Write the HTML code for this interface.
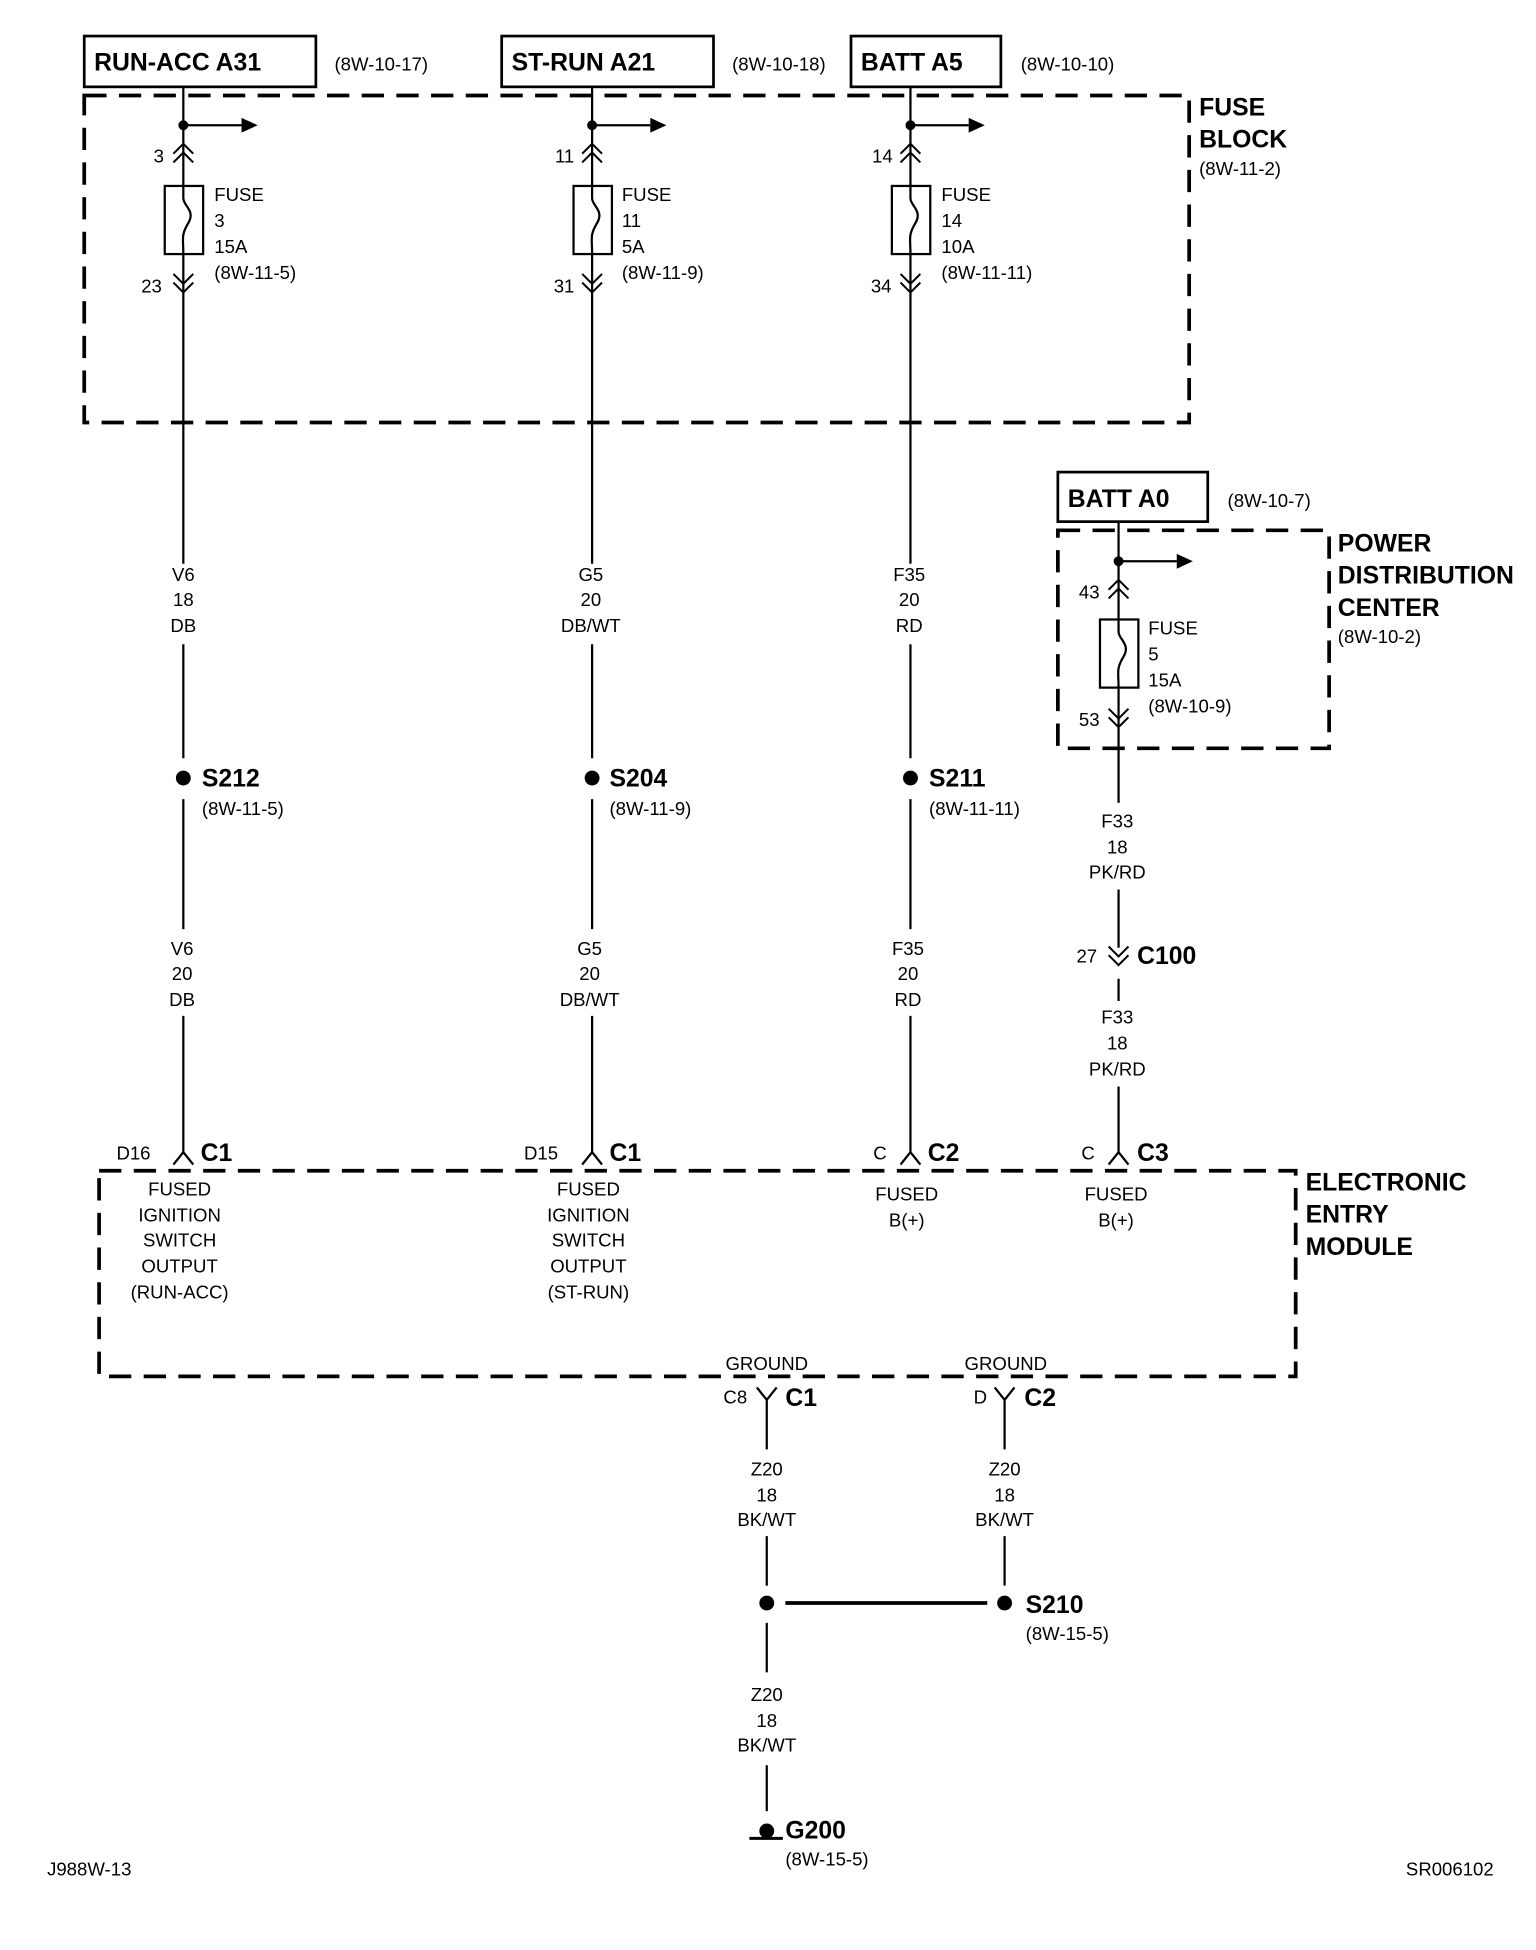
<!DOCTYPE html>
<html><head><meta charset="utf-8"><style>html,body{margin:0;padding:0;background:#fff}svg{display:block}</style></head>
<body>
<svg width="1536" height="1950" viewBox="0 0 1240 1574" xmlns="http://www.w3.org/2000/svg" font-family="Liberation Sans, Arial, sans-serif">
<defs>
<g id="upch"><path d="M-8,-2 L0,-10 L8,-2 M-8,5 L0,-3 L8,5" fill="none" stroke="#000" stroke-width="1.6"/></g>
<g id="dnch"><path d="M-8,-5 L0,3 L8,-5 M-8,2 L0,10 L8,2" fill="none" stroke="#000" stroke-width="1.6"/></g>
</defs>
<rect width="1240" height="1574" fill="#fff"/>
<g fill="none" stroke="#000" stroke-width="3" stroke-dasharray="18,10">
<rect x="68" y="77" width="892" height="264"/>
<rect x="854" y="428" width="219" height="176"/>
<rect x="80" y="945" width="966" height="166"/>
</g>
<g fill="none" stroke="#000" stroke-width="2.2">
<rect x="68" y="29" width="187" height="41"/>
<rect x="405" y="29" width="171" height="41"/>
<rect x="687" y="29" width="121" height="41"/>
<rect x="854" y="381" width="121" height="40"/>
</g>
<g stroke="#000" stroke-width="1.8" fill="none">
<!-- col wires -->
<path d="M148,70V150 M148,205V455 M148,520V612 M148,645V750 M148,820V930"/>
<path d="M478,70V150 M478,205V455 M478,520V612 M478,645V750 M478,820V930"/>
<path d="M735,70V150 M735,205V455 M735,520V612 M735,645V750 M735,820V930"/>
<path d="M903,421V500 M903,555V648 M903,718V765 M903,790V808 M903,877V930"/>
<path d="M148,101H195 M478,101H525 M735,101H782 M903,453H950"/>
<!-- fuses -->
<rect x="133" y="150" width="31" height="55"/><path d="M148,150v10c0,6 10,10 4,20c-6,10 -4,12 -4,25"/>
<rect x="463" y="150" width="31" height="55"/><path d="M478,150v10c0,6 10,10 4,20c-6,10 -4,12 -4,25"/>
<rect x="720" y="150" width="31" height="55"/><path d="M735,150v10c0,6 10,10 4,20c-6,10 -4,12 -4,25"/>
<rect x="888" y="500" width="31" height="55"/><path d="M903,500v10c0,6 10,10 4,20c-6,10 -4,12 -4,25"/>
<!-- EEM top connectors -->
<path d="M140,940L148,930L156,940 M470,940L478,930L486,940 M727,940L735,930L743,940 M895,940L903,930L911,940"/>
<!-- ground connectors -->
<path d="M611,1120L619,1130L627,1120 M619,1130V1170 M803,1120L811,1130L819,1120 M811,1130V1170"/>
<path d="M619,1240V1280 M811,1240V1280 M619,1310V1350 M619,1425V1462"/>
<path d="M634,1294H797" stroke-width="3"/>
<path d="M605,1484H632" stroke-width="2.5"/>
</g>
<g fill="#000">
<circle cx="148" cy="101" r="4"/><circle cx="478" cy="101" r="4"/><circle cx="735" cy="101" r="4"/><circle cx="903" cy="453" r="4"/>
<path d="M195,95L208,101L195,107Z M525,95L538,101L525,107Z M782,95L795,101L782,107Z M950,447L963,453L950,459Z"/>
<circle cx="148" cy="628" r="6"/><circle cx="478" cy="628" r="6"/><circle cx="735" cy="628" r="6"/>
<circle cx="619" cy="1294" r="6"/><circle cx="811" cy="1294" r="6"/>
<circle cx="619" cy="1478" r="6"/>
</g>
<use href="#upch" x="148" y="126"/><use href="#dnch" x="148" y="226"/>
<use href="#upch" x="478" y="126"/><use href="#dnch" x="478" y="226"/>
<use href="#upch" x="735" y="126"/><use href="#dnch" x="735" y="226"/>
<use href="#upch" x="903" y="478"/><use href="#dnch" x="903" y="577"/>
<use href="#dnch" x="903" y="769"/>
<g font-weight="bold" font-size="20" fill="#000">
<text x="76" y="57">RUN-ACC A31</text>
<text x="413" y="57">ST-RUN A21</text>
<text x="695" y="57">BATT A5</text>
<text x="862" y="409">BATT A0</text>
<text x="968" y="93">FUSE</text><text x="968" y="119">BLOCK</text>
<text x="1080" y="445">POWER</text><text x="1080" y="471">DISTRIBUTION</text><text x="1080" y="497">CENTER</text>
<text x="1054" y="961">ELECTRONIC</text><text x="1054" y="987">ENTRY</text><text x="1054" y="1013">MODULE</text>
<text x="163" y="635">S212</text><text x="492" y="635">S204</text><text x="750" y="635">S211</text>
<text x="918" y="778">C100</text>
<text x="162" y="937">C1</text><text x="492" y="937">C1</text><text x="749" y="937">C2</text><text x="918" y="937">C3</text>
<text x="634" y="1135">C1</text><text x="827" y="1135">C2</text>
<text x="828" y="1302">S210</text><text x="634" y="1484">G200</text>
</g>
<g font-size="15" fill="#000">
<text x="270" y="57">(8W-10-17)</text><text x="591" y="57">(8W-10-18)</text><text x="824" y="57">(8W-10-10)</text><text x="991" y="409">(8W-10-7)</text>
<text x="968" y="141">(8W-11-2)</text><text x="1080" y="519">(8W-10-2)</text>
<text x="124" y="131">3</text><text x="114" y="236">23</text>
<text x="448" y="131">11</text><text x="447" y="236">31</text>
<text x="704" y="131">14</text><text x="703" y="236">34</text>
<text x="871" y="483">43</text><text x="871" y="586">53</text><text x="869" y="777">27</text>
<text x="173" y="162">FUSE</text><text x="173" y="183">3</text><text x="173" y="204">15A</text><text x="173" y="225">(8W-11-5)</text>
<text x="502" y="162">FUSE</text><text x="502" y="183">11</text><text x="502" y="204">5A</text><text x="502" y="225">(8W-11-9)</text>
<text x="760" y="162">FUSE</text><text x="760" y="183">14</text><text x="760" y="204">10A</text><text x="760" y="225">(8W-11-11)</text>
<text x="927" y="512">FUSE</text><text x="927" y="533">5</text><text x="927" y="554">15A</text><text x="927" y="575">(8W-10-9)</text>
<text x="163" y="658">(8W-11-5)</text><text x="492" y="658">(8W-11-9)</text><text x="750" y="658">(8W-11-11)</text>
<text x="94" y="936">D16</text><text x="423" y="936">D15</text><text x="705" y="936">C</text><text x="873" y="936">C</text>
<text x="584" y="1133">C8</text><text x="786" y="1133">D</text>
<text x="828" y="1324">(8W-15-5)</text><text x="634" y="1506">(8W-15-5)</text>
<text x="38" y="1514">J988W-13</text><text x="1135" y="1514">SR006102</text>
</g>
<g font-size="15" fill="#000" text-anchor="middle">
<text x="148" y="469">V6</text><text x="148" y="489">18</text><text x="148" y="510">DB</text>
<text x="477" y="469">G5</text><text x="477" y="489">20</text><text x="477" y="510">DB/WT</text>
<text x="734" y="469">F35</text><text x="734" y="489">20</text><text x="734" y="510">RD</text>
<text x="147" y="771">V6</text><text x="147" y="791">20</text><text x="147" y="812">DB</text>
<text x="476" y="771">G5</text><text x="476" y="791">20</text><text x="476" y="812">DB/WT</text>
<text x="733" y="771">F35</text><text x="733" y="791">20</text><text x="733" y="812">RD</text>
<text x="902" y="668">F33</text><text x="902" y="689">18</text><text x="902" y="709">PK/RD</text>
<text x="902" y="826">F33</text><text x="902" y="847">18</text><text x="902" y="868">PK/RD</text>
<text x="145" y="965">FUSED</text><text x="145" y="986">IGNITION</text><text x="145" y="1006">SWITCH</text><text x="145" y="1027">OUTPUT</text><text x="145" y="1048">(RUN-ACC)</text>
<text x="475" y="965">FUSED</text><text x="475" y="986">IGNITION</text><text x="475" y="1006">SWITCH</text><text x="475" y="1027">OUTPUT</text><text x="475" y="1048">(ST-RUN)</text>
<text x="732" y="969">FUSED</text><text x="732" y="990">B(+)</text>
<text x="901" y="969">FUSED</text><text x="901" y="990">B(+)</text>
<text x="619" y="1106">GROUND</text><text x="812" y="1106">GROUND</text>
<text x="619" y="1191">Z20</text><text x="619" y="1212">18</text><text x="619" y="1232">BK/WT</text>
<text x="811" y="1191">Z20</text><text x="811" y="1212">18</text><text x="811" y="1232">BK/WT</text>
<text x="619" y="1373">Z20</text><text x="619" y="1394">18</text><text x="619" y="1414">BK/WT</text>
</g>
</svg>
</body></html>
